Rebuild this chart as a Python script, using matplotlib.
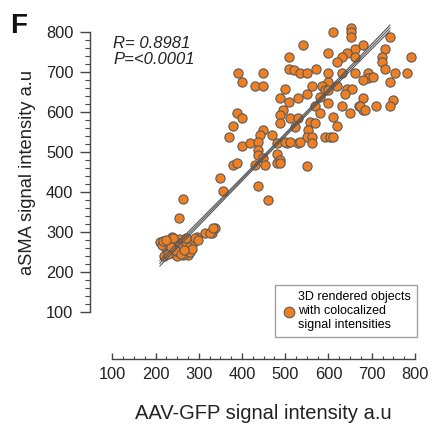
"""
Scatter of aSMA vs AAV-GFP signal intensity with linear fit (panel F)
"""

import numpy as np
import matplotlib.pyplot as plt
import matplotlib

matplotlib.rcParams['font.family'] = ['Liberation Sans', 'DejaVu Sans']

# values (AAV-GFP, aSMA)
gfp_upper = [611, 651, 651, 651, 742, 542, 680, 661, 731, 792, 600, 642, 509,
             631, 661, 723, 723, 619, 509, 521, 571, 534, 551, 391, 399, 449,
             430, 449, 600, 631, 661, 692, 692, 731, 754, 781, 742, 680, 704,
             600, 584, 619, 499, 561, 642, 654, 638, 592, 600, 488, 509, 530,
             551, 580, 600, 680, 750, 742, 711, 631, 650, 671, 680, 569, 580,
             495, 488, 389, 399, 380, 511, 530, 488, 523, 557, 569, 611, 619,
             553, 449, 442, 469, 371, 399, 418, 438, 480, 503, 530, 550, 561,
             561, 592, 603, 611, 438, 438, 449, 480, 480, 380, 388, 430, 453,
             550, 349, 357, 438, 461, 673, 684, 534, 499, 511, 488, 488]
asma_upper = [799, 809, 799, 788, 788, 768, 768, 757, 757, 737, 747, 747, 737,
              737, 737, 737, 726, 726, 708, 705, 708, 697, 697, 697, 676, 697,
              666, 666, 697, 697, 697, 697, 684, 707, 697, 697, 676, 680, 687,
              676, 665, 665, 657, 665, 657, 657, 644, 655, 655, 636, 626, 636,
              644, 638, 622, 636, 630, 615, 615, 615, 597, 615, 605, 615, 597,
              605, 592, 597, 584, 565, 584, 584, 573, 563, 576, 573, 588, 565,
              555, 555, 543, 543, 538, 515, 523, 526, 523, 523, 523, 538, 538,
              523, 537, 537, 537, 505, 493, 484, 495, 473, 468, 473, 468, 468,
              466, 434, 403, 415, 380, 615, 605, 526, 526, 526, 480, 472]

gfp_lower = [263, 255, 295, 314, 330, 338, 210, 222, 237, 241, 257, 272, 276,
             287, 291, 299, 326, 334, 226, 264, 249, 215, 230, 235, 245, 250,
             255, 260, 268, 275, 280, 220, 232, 248, 262, 285, 240, 228, 270,
             218, 252, 244, 258, 236, 266, 224]
asma_lower = [383, 334, 288, 297, 298, 309, 274, 263, 288, 247, 263, 259, 243,
              272, 284, 280, 297, 309, 251, 243, 272, 268, 255, 278, 260, 240,
              282, 250, 270, 262, 250, 240, 268, 252, 276, 258, 285, 245, 285,
              278, 266, 256, 244, 262, 254, 280]

# fit line and 95% band half-width
fit_x = [210, 742]
fit_y = [222, 810]
band_end = 7.
band_mid = 4.

r_text = 'R= 0.8981\nP=<0.0001'
legend_label = '3D rendered objects\nwith colocalized\nsignal intensities'


def main():
    """
    Draw the figure
    """
    gfp = np.array(gfp_upper + gfp_lower, dtype=float)
    asma = np.array(asma_upper + asma_lower, dtype=float)

    x_fit = np.linspace(fit_x[0], fit_x[1], 100)
    y_fit = np.interp(x_fit, fit_x, fit_y)
    x_mid = 0.5 * (fit_x[0] + fit_x[1])
    half = 0.5 * (fit_x[1] - fit_x[0])
    conf = np.sqrt(band_mid ** 2 + (band_end ** 2 - band_mid ** 2)
                   * ((x_fit - x_mid) / half) ** 2)

    fig = plt.figure(figsize=(4.33, 4.24), dpi=100)
    ax01 = fig.add_axes([0.2079, 0.1533, 0.762, 0.7995])

    ax01.scatter(gfp, asma, s=44, c='#F07F22', edgecolors='#5a5a5a',
                 linewidths=0.8, zorder=3, label=legend_label)
    for y_line in (y_fit, y_fit + conf, y_fit - conf):
        ax01.plot(x_fit, y_line, color='#555555', lw=0.8, zorder=4)

    ax01.set_xlim(48.4, 811.6)
    ax01.set_ylim(-17.5, 830)

    for side in ('top', 'right'):
        ax01.spines[side].set_visible(False)
    ax01.spines['left'].set_bounds(100, 800)
    ax01.spines['bottom'].set_bounds(100, 800)
    for side in ('left', 'bottom'):
        ax01.spines[side].set_color('#444444')
        ax01.spines[side].set_linewidth(1.0)

    ax01.set_xticks(np.arange(100, 801, 100))
    ax01.set_xticks(np.arange(100, 801, 25), minor=True)
    ax01.set_yticks(np.arange(100, 801, 100))
    ax01.set_yticks(np.arange(100, 801, 20), minor=True)

    ax01.tick_params(axis='x', which='major', direction='in', length=4.5,
                     width=1, pad=6, labelsize=11.8, colors='#444444',
                     labelcolor='#222222')
    ax01.tick_params(axis='x', which='minor', direction='in', length=2.5,
                     width=0.8, colors='#444444')
    ax01.tick_params(axis='y', which='major', direction='out', length=7,
                     width=1, pad=5, labelsize=11.8, colors='#444444',
                     labelcolor='#222222')
    ax01.tick_params(axis='y', which='minor', direction='out', length=3.5,
                     width=0.8, colors='#444444')

    ax01.set_xlabel('AAV-GFP signal intensity a.u', fontsize=14.5,
                    color='#222222')
    ax01.set_ylabel('aSMA signal intensity a.u', fontsize=13.2,
                    color='#222222')
    ax01.xaxis.set_label_coords(0.526, -0.133)
    ax01.yaxis.set_label_coords(-0.164, 0.5516)

    fig.text(113 / 433, 1 - 36 / 424, r_text, fontsize=12, style='italic',
             va='top', ha='left', color='#222222', linespacing=1.1)
    fig.text(10 / 433, 1 - 33 / 424, 'F', fontsize=20, fontweight='bold',
             va='baseline', ha='left', color='#111111')

    leg = ax01.legend(loc='upper right', bbox_to_anchor=(0.9624, 0.3278),
                      bbox_transform=fig.transFigure, fontsize=9,
                      frameon=True, fancybox=False, handletextpad=0.1,
                      borderaxespad=0, handlelength=1.2, borderpad=0.5,
                      markerscale=1.15)
    leg.get_frame().set_edgecolor('#888888')
    leg.get_frame().set_linewidth(1.0)

    fig.savefig('out.png', dpi=100)


if __name__ == "__main__":
    main()
